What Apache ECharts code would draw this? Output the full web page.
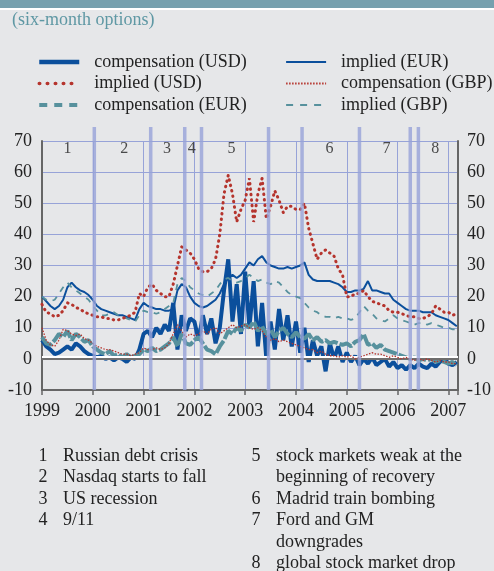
<!DOCTYPE html>
<html><head><meta charset="utf-8">
<script src="https://cdn.jsdelivr.net/npm/echarts@6/dist/echarts.min.js"></script>
<style>html,body{margin:0;padding:0;background:#e6e7e9}#c{width:494px;height:571px}</style>
</head><body><div id="c"></div>
<script>
// Monthly observations, January 1999 to March 2007 (99 months)
const firstYear = 1999;
const compUSD = [
  6,4,3,1.5,2,3,4,3,5,4,2.5,1.5,
  1,0.5,1,0,0.5,-0.5,0.5,0,-1,0.5,0,3,
  8,9,7,10,8,11,9,18,3,14,9,13,
  12,6,14,8,13,5,10,22,32,12,24,8,
  28,10,25,4,18,0,12,3,16,6,14,4,
  12,2,10,-1,6,1,4,-4,5,0,4,-1,
  2,-1,1,-2,0,-1.5,0.5,-2,-1,0,-2.5,-1,
  -3,-2,-3.5,-2,-3,-1.5,-2.5,-3,-1.5,-2.5,-1,0,
  -1.5,-2,-1
];
const impliedUSD = [
  17.5,15,14.5,13.5,14,15.5,18,17.5,16.5,16,15,14.5,
  14,13.5,13.5,13,13,12.5,12.5,13,13.5,14,15,21,
  20,23,24,22,21,20,20,24,30,36,35,34,
  32,29,28,28,29,32,40,53,59,53,44,48,
  51,58,44,53,58,45,49,54,51,47,49,49,
  48,48,50,42,37,32,34,35,34,33,29,27,
  20,20,21,21,22,20,18.5,18,17.5,17,15.5,15,
  15,14.5,14,13.5,13.5,13,13,13.5,14.5,17,16,15,
  15,14,14.5
];
const compEUR = [
  7,5,4.5,6,8,7,9,6,8,7,5.5,6,
  4,3,2,1.5,2.5,1,1.5,0.5,1.5,0.5,1,1.5,
  3,2.5,3.5,2.5,3,4,5,7,4,8,5,4.5,
  6,7,5,3,2.5,1.5,4,6,9,8,10,9,
  11,10,12,9,10.5,8,9.5,7,9,10,8,7,
  8.5,7,6.5,8,6,7,5.5,6,5,5.5,5,4.5,
  5,4,5.5,6,8,4.5,5,3.5,4.5,3,2.5,2,
  1.5,1,0.5,0,0.5,-0.5,0,-0.5,0,-1,-0.5,-1,
  -1.5,-1,-2
];
const impliedEUR = [
  20,18.5,17,16,17,19,23,24.5,23,22,21.5,20.5,
  19,17,16,15.5,15,14.5,14,14,13.5,13,12.5,16,
  18,17,16.5,16,16,15.5,15.5,16,22,24,23,20,
  18,17,16.5,17,18,19,21,24,26,27,26,27,
  29,31,30,32,33,31,30,29.5,29,29,29.5,29,
  29.5,30,31,27,25.5,25,25,25,25,24.5,24,23,
  21.5,21.5,22,22,22.5,25,22,22,21.5,21,21,19,
  18,17,16,15.5,15.5,15.5,15,15,15,14,13.5,13,
  12.5,11.5,10.5
];
const compGBP = [
  10,6,4.5,4,6,9.5,9,8,7.5,8,6.5,6,
  5,4,3.5,3,3,2.5,2,1.5,1.5,1,1.5,2,
  3.5,3,3,3.5,3,3.5,5,8,11,9,7,8,
  7.5,8,9,8,9.5,10,8,9,10,11,10,10.5,
  11,10,9.5,10,9,7,6,6.5,5.5,6,5.5,5,
  4.5,4,3.5,3,3,2,2.5,1.5,1,1,0.5,1,
  0.5,1,0,0.5,1,1.5,2,1.5,1.5,1,0.5,1,
  0.5,0,0.5,0,-0.5,0,-0.5,0,-0.5,-1,-0.5,-1,
  -1,-1.5,-1.5
];
const impliedGBP = [
  20,19,18.5,19,21,23,24.5,23,22,21,20,19,
  17,15.5,14,14,14.5,15,14,13.5,13,12.5,12,14,
  15.5,15,15,14.5,15,16,17,18,24,26,25,23,
  22,21,20.5,20,21,22,24,25.5,26,25,24.5,25,
  26,27,26,25,25.5,24.5,24,25,24.5,23,21.5,20.5,
  20,19.5,18,16.5,15.5,15,14,13.5,13.5,13,13.5,13,
  13,12.5,13,15,17,15.5,14.5,13,12.5,12,13,14,
  13,12.5,12,11.5,11,11.5,11.5,11,11.5,11,10.5,10,
  10,9.5,9.5
];
const yearTicks = [1999,2000,2001,2002,2003,2004,2005,2006,2007];
const eventDates = [2000.03,2001.14,2001.81,2002.14,2003.46,2004.12,2005.25,2006.25,2006.41];
const eventNumbers = ['1','2','3','4','5','6','7','8'];
const eventNumberX = [1999.5,2000.62,2001.46,2001.95,2002.73,2004.66,2005.78,2006.74];
const notesLeft = [['1','Russian debt crisis'],['2','Nasdaq starts to fall'],['3','US recession'],['4','9/11']];
const notesRight = [['5','stock markets weak at the'],['','beginning of recovery'],['6','Madrid train bombing'],['7','Ford and GM'],['','downgrades'],['8','global stock market drop']];

const toPairs = arr => arr.map((v, i) => [firstYear + i / 12, v]);
const serif = 'Liberation Serif';
const dark = '#0b4f9c', teal = '#57919d', red = '#b5342d', grid = '#97a3d8';

const chart = echarts.init(document.getElementById('c'), null, {renderer: 'canvas'});
const lineBase = {type: 'line', showSymbol: false, symbol: 'none', smooth: false, animation: false, xAxisIndex: 0, yAxisIndex: 0};

const graphics = [
  {type: 'rect', shape: {x: 0, y: 0, width: 494, height: 8}, style: {fill: '#76a0ae'}},
  {type: 'rect', shape: {x: 0, y: 8, width: 494, height: 2}, style: {fill: '#ffffff'}},
  {type: 'text', x: 12, y: 20, style: {text: '(six-month options)', fontFamily: serif, fontSize: 18, fill: '#5f98a4', verticalAlign: 'middle'}}
];
notesLeft.forEach((n, i) => {
  graphics.push({type: 'text', x: 43, y: 456 + i * 21.5, style: {text: n[0], fontFamily: serif, fontSize: 18, fill: '#222', align: 'center', verticalAlign: 'middle'}});
  graphics.push({type: 'text', x: 63, y: 456 + i * 21.5, style: {text: n[1], fontFamily: serif, fontSize: 18, fill: '#222', verticalAlign: 'middle'}});
});
notesRight.forEach((n, i) => {
  graphics.push({type: 'text', x: 256, y: 456 + i * 21.5, style: {text: n[0], fontFamily: serif, fontSize: 18, fill: '#222', align: 'center', verticalAlign: 'middle'}});
  graphics.push({type: 'text', x: 276, y: 456 + i * 21.5, style: {text: n[1], fontFamily: serif, fontSize: 18, fill: '#222', verticalAlign: 'middle'}});
});

const legendText = {fontFamily: serif, fontSize: 18, color: '#222', lineHeight: 18, padding: [0, 0, 0, 10]};
const legendCommon = {orient: 'vertical', top: 53, itemWidth: 40, itemHeight: 14, itemGap: 3.5, padding: 0,
  textStyle: legendText, itemStyle: {opacity: 0}};

chart.setOption({
  animation: false,
  backgroundColor: '#e6e7e9',
  graphic: graphics,
  legend: [
    Object.assign({}, legendCommon, {left: 37,
     data: [{name: 'compensation (USD)', lineStyle: {width: 4.5}},
            {name: 'implied (USD)', lineStyle: {width: 3.5, type: [0.5, 7.5], cap: 'round'}},
            {name: 'compensation (EUR)', lineStyle: {type: [8, 7], width: 4}}]}),
    Object.assign({}, legendCommon, {left: 285,
     data: [{name: 'implied (EUR)', lineStyle: {width: 2.2}},
            {name: 'compensation (GBP)'},
            {name: 'implied (GBP)', lineStyle: {type: [7, 7], width: 2}}]})
  ],
  grid: {left: 42, right: 35, top: 141, bottom: 181, containLabel: false},
  xAxis: {
    type: 'value', min: 1999, max: 2007.19, interval: 1,
    axisLine: {show: true, onZero: false, lineStyle: {color: '#666', width: 2}},
    axisTick: {show: true, length: 5, inside: false, lineStyle: {color: '#666', width: 1.5}},
    axisLabel: {fontFamily: serif, fontSize: 18, color: '#222', margin: 12,
      formatter: v => (yearTicks.indexOf(Math.round(v)) >= 0 && Math.abs(v - Math.round(v)) < 1e-6) ? String(Math.round(v)) : ''},
    splitLine: {show: true, lineStyle: {color: grid, width: 1}}
  },
  yAxis: [
    {type: 'value', min: -10, max: 70, interval: 10, position: 'left',
     axisLine: {show: true, lineStyle: {color: '#666', width: 2}}, axisTick: {show: false},
     axisLabel: {fontFamily: serif, fontSize: 18, color: '#222', margin: 10},
     splitLine: {show: true, lineStyle: {color: grid, width: 1}}},
    {type: 'value', min: -10, max: 70, interval: 10, position: 'right',
     axisLine: {show: true, lineStyle: {color: '#666', width: 2}}, axisTick: {show: false},
     axisLabel: {fontFamily: serif, fontSize: 18, color: '#222', margin: 9},
     splitLine: {show: false}}
  ],
  series: [
    {type: 'scatter', name: 'zero', data: [], silent: true, z: 1,
     markLine: {silent: true, symbol: ['none', 'none'], label: {show: false},
       lineStyle: {color: '#6e6e6e', width: 2, type: 'solid', shadowColor: '#ffffff', shadowOffsetY: -2, shadowBlur: 0},
       data: [{yAxis: 0}]}},
    Object.assign({}, lineBase, {name: 'compensation (USD)', data: toPairs(compUSD), z: 3,
      lineStyle: {color: dark, width: 4}, itemStyle: {color: dark}}),
    Object.assign({}, lineBase, {name: 'compensation (EUR)', data: toPairs(compEUR), z: 4,
      lineStyle: {color: teal, width: 4, type: [14, 2]}, itemStyle: {color: teal}}),
    Object.assign({}, lineBase, {name: 'implied (EUR)', data: toPairs(impliedEUR), z: 5,
      lineStyle: {color: dark, width: 2}, itemStyle: {color: dark}}),
    Object.assign({}, lineBase, {name: 'implied (GBP)', data: toPairs(impliedGBP), z: 5,
      lineStyle: {color: teal, width: 1.8, type: [6, 6]}, itemStyle: {color: teal}}),
    Object.assign({}, lineBase, {name: 'compensation (GBP)', data: toPairs(compGBP), z: 6,
      lineStyle: {color: red, width: 1.3, type: [1.5, 1.5]}, itemStyle: {color: red}}),
    Object.assign({}, lineBase, {name: 'implied (USD)', data: toPairs(impliedUSD), z: 7,
      lineStyle: {color: red, width: 3, type: [0.5, 5], cap: 'round'}, itemStyle: {color: red}}),
    {type: 'custom', name: 'events', data: eventDates.map(d => [d]), z: 8, silent: true, clip: false,
     renderItem: function (params, api) {
       const x = api.coord([api.value(0), 0])[0];
       const cs = params.coordSys;
       return {type: 'line', shape: {x1: x, y1: cs.y - 14, x2: x, y2: cs.y + cs.height},
         style: {stroke: grid, lineWidth: 3.5, opacity: 0.8}};
     }},
    {type: 'scatter', name: 'eventNumbers', silent: true, z: 9, symbolSize: 0,
     data: eventNumberX.map((x, i) => ({value: [x, 67.4], name: eventNumbers[i]})),
     label: {show: true, position: 'inside', formatter: p => p.name, fontFamily: serif, fontSize: 16, color: '#222'}}
  ]
});
</script></body></html>
